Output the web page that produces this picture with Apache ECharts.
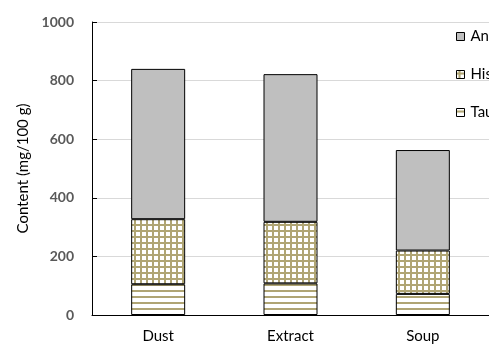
<!DOCTYPE html>
<html>
<head>
<meta charset="utf-8">
<script src="https://cdn.jsdelivr.net/npm/echarts@6/dist/echarts.min.js"></script>
<style>
html,body{margin:0;padding:0;background:#fff;}
#c{width:489px;height:345px;}
</style>
</head>
<body>
<div id="c"></div>
<script>
const categories = ['Dust', 'Extract', 'Soup'];
const taurine = [105, 108, 72];
const histidine = [222, 210, 148];
const anserine = [513, 504, 343];
const yTicks = [0, 200, 400, 600, 800, 1000];

function makePattern(type) {
  const s = 6;
  const cv = document.createElement('canvas');
  cv.width = s; cv.height = s;
  const ctx = cv.getContext('2d');
  ctx.fillStyle = '#ffffff';
  ctx.fillRect(0, 0, s, s);
  ctx.fillStyle = '#b0a574';
  if (type === 'h' || type === 'grid') ctx.fillRect(0, 2, s, 2);
  if (type === 'grid') ctx.fillRect(2, 0, 2, s);
  return cv;
}

const font = 'Lato, "Open Sans", sans-serif';
const chart = echarts.init(document.getElementById('c'), null, {renderer: 'canvas'});
const barW = 54;
chart.setOption({
  animation: false,
  textStyle: {fontFamily: font},
  grid: {left: 92, top: 22, bottom: 30, width: 407},
  legend: {
    orient: 'vertical',
    left: 456,
    top: 29,
    padding: 0,
    icon: 'rect',
    itemWidth: 8,
    itemHeight: 8,
    itemGap: 23,
    data: ['Anserine', 'Histidine', 'Taurine'],
    itemStyle: {borderColor: '#000', borderWidth: 1},
    textStyle: {fontFamily: font, fontSize: 15, color: '#000', padding: [0, 0, 0, 1]}
  },
  xAxis: {
    type: 'category',
    data: categories,
    axisLine: {lineStyle: {color: '#000', width: 1}},
    axisTick: {show: false},
    axisLabel: {color: '#000', fontSize: 15, margin: 14, fontFamily: font}
  },
  yAxis: {
    type: 'value',
    min: yTicks[0],
    max: yTicks[yTicks.length - 1],
    interval: 200,
    name: 'Content (mg/100 g)',
    nameLocation: 'middle',
    nameGap: 59,
    nameTextStyle: {fontSize: 15, color: '#000', fontFamily: font},
    axisLine: {show: true, lineStyle: {color: '#000', width: 1}},
    axisTick: {show: true, inside: true, length: 5, lineStyle: {color: '#000'}},
    axisLabel: {color: '#595959', fontWeight: 'bold', fontSize: 14, margin: 18, fontFamily: font,
      formatter: v => String(v)},
    splitLine: {lineStyle: {color: '#d9d9d9', width: 1}}
  },
  series: [
    {
      name: 'Taurine', type: 'bar', stack: 't', barWidth: barW, data: taurine,
      itemStyle: {color: {image: makePattern('h'), repeat: 'repeat'}, borderColor: '#000', borderWidth: 1}
    },
    {
      name: 'Histidine', type: 'bar', stack: 't', barWidth: barW, data: histidine,
      itemStyle: {color: {image: makePattern('grid'), repeat: 'repeat'}, borderColor: '#000', borderWidth: 1}
    },
    {
      name: 'Anserine', type: 'bar', stack: 't', barWidth: barW, data: anserine,
      itemStyle: {color: '#bfbfbf', borderColor: '#000', borderWidth: 1}
    }
  ]
});
</script>
</body>
</html>
